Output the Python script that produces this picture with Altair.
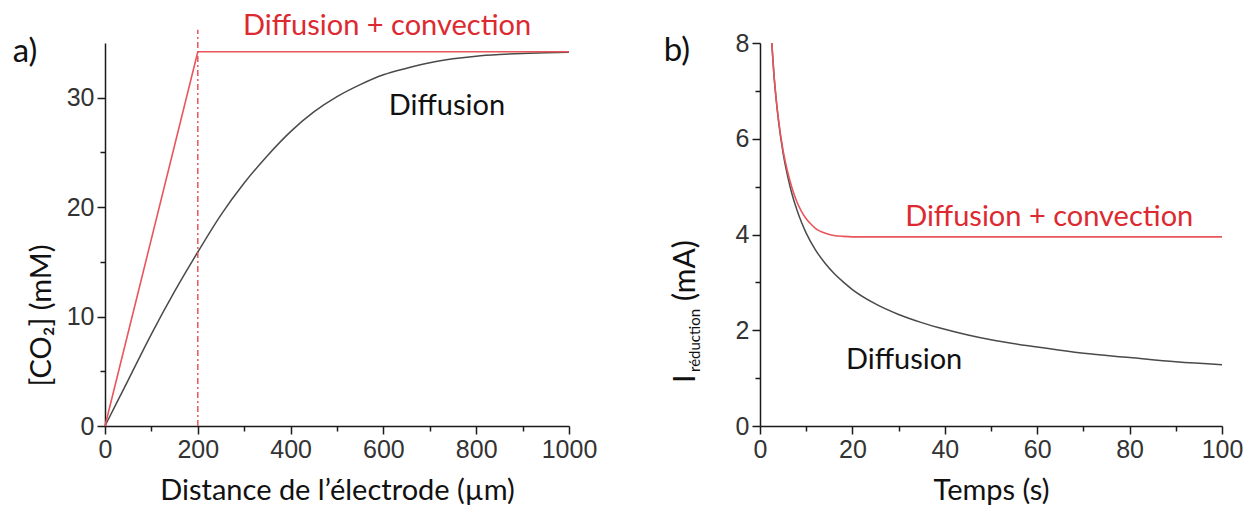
import altair as alt
import pandas as pd

# ---------- panel a) data ----------
dist_um = [0, 50, 100, 150, 200, 250, 300, 350, 400, 450, 500, 550, 600, 650, 700,
           750, 800, 850, 900, 950, 1000]
co2_diffusion = [0, 4.2, 8.4, 12.3, 15.9, 19.3, 22.2, 24.7, 26.9, 28.7, 30.1, 31.2,
                 32.1, 32.7, 33.2, 33.55, 33.8, 33.95, 34.05, 34.1, 34.15]
conv_dist_um = [0, 200, 1000]
co2_convection = [0, 34.2, 34.2]
boundary_um = [200]
boundary_top = [36.2]

# ---------- panel b) data ----------
t_diffusion = [2.55, 3, 3.5, 4, 5, 6, 7, 8, 9, 10, 12, 14, 16, 18, 20, 25, 30, 35, 40,
               45, 50, 60, 70, 80, 90, 100]
i_diffusion = [8.0, 7.36, 6.82, 6.38, 5.70, 5.21, 4.82, 4.51, 4.25, 4.03, 3.68, 3.41,
               3.19, 3.01, 2.85, 2.55, 2.33, 2.16, 2.02, 1.90, 1.80, 1.65, 1.52, 1.43,
               1.34, 1.28]
t_convection = [2.55, 3, 3.5, 4, 5, 6, 7, 8, 9, 10, 11, 12, 13, 14, 15, 16, 18, 20, 100]
i_convection = [8.0, 7.36, 6.83, 6.40, 5.75, 5.30, 4.95, 4.68, 4.48, 4.33, 4.22, 4.13,
                4.07, 4.03, 4.00, 3.98, 3.96, 3.95, 3.95]

x_ticks_a = list(range(0, 1001, 100))
y_ticks_a = [0, 5, 10, 15, 20, 25, 30]
x_ticks_b = list(range(0, 101, 10))
y_ticks_b = list(range(0, 9))

RED_LINE = "#e8555a"
RED_TEXT = "#dc2a30"
BLACK_LINE = "#4a4a4a"
ANN_FONT = "Lato"
TICK_FONT = "Liberation Sans"

W_A, H = 464, 383
W_B = 462


def axis(values, major_test, title, **kw):
    return alt.Axis(
        values=values,
        format="d",
        labelExpr=f"({major_test}) ? datum.label : ''",
        tickSize={"condition": {"test": major_test, "value": 8}, "value": 5},
        title=title,
        grid=False,
        **kw,
    )


# ---------------- panel a ----------------
df_a_diff = pd.DataFrame({"x": dist_um, "y": co2_diffusion})
df_a_conv = pd.DataFrame({"x": conv_dist_um, "y": co2_convection})
df_a_rule = pd.DataFrame({"x": boundary_um, "y": [0], "y2": boundary_top})

xa = alt.X("x:Q", scale=alt.Scale(domain=[0, 1000], nice=False),
           axis=axis(x_ticks_a, "datum.value % 200 === 0",
                     "Distance de l’électrode (µm)", titlePadding=14))
ya = alt.Y("y:Q", scale=alt.Scale(domain=[0, 35], nice=False),
           axis=axis(y_ticks_a, "datum.value % 10 === 0", "[CO₂] (mM)",
                     titlePadding=10, titleY=272))

a_diff = alt.Chart(df_a_diff).mark_line(color=BLACK_LINE, strokeWidth=1.5,
                                         interpolate="monotone").encode(x=xa, y=ya)
a_conv = alt.Chart(df_a_conv).mark_line(color=RED_LINE, strokeWidth=1.6).encode(
    x="x:Q", y="y:Q")
a_rule = alt.Chart(df_a_rule).mark_rule(color=RED_LINE, strokeWidth=1.5,
                                        strokeDash=[6, 3, 2, 3]).encode(
    x="x:Q", y="y:Q", y2="y2:Q")

ann_a = pd.DataFrame({"x": [608, 737], "y": [36.55, 29.2],
                      "t": ["Diffusion + convection", "Diffusion"],
                      "c": [RED_TEXT, "#111111"]})
a_text = alt.Chart(ann_a).mark_text(font=ANN_FONT, fontSize=29, baseline="middle").encode(
    x="x:Q", y="y:Q", text="t:N", color=alt.Color("c:N", scale=None))
a_label = alt.Chart(pd.DataFrame({"t": ["a)"]})).mark_text(
    font=ANN_FONT, fontSize=33, baseline="middle", color="#111111").encode(
    x=alt.value(-80), y=alt.value(9), text="t:N")

panel_a = alt.layer(a_diff, a_conv, a_rule, a_text, a_label).properties(width=W_A, height=H)

# ---------------- panel b ----------------
df_b_diff = pd.DataFrame({"x": t_diffusion, "y": i_diffusion})
df_b_conv = pd.DataFrame({"x": t_convection, "y": i_convection})

xb = alt.X("x:Q", scale=alt.Scale(domain=[0, 100], nice=False),
           axis=axis(x_ticks_b, "datum.value % 20 === 0", "Temps (s)", titlePadding=14))
yb = alt.Y("y:Q", scale=alt.Scale(domain=[0, 8], nice=False),
           axis=axis(y_ticks_b, "datum.value % 2 === 0", None))

b_diff = alt.Chart(df_b_diff).mark_line(color=BLACK_LINE, strokeWidth=1.5,
                                         interpolate="monotone").encode(x=xb, y=yb)
b_conv = alt.Chart(df_b_conv).mark_line(color=RED_LINE, strokeWidth=1.6,
                                         interpolate="monotone").encode(x="x:Q", y="y:Q")

ann_b = pd.DataFrame({"x": [62.6, 31.2], "y": [4.36, 1.38],
                      "t": ["Diffusion + convection", "Diffusion"],
                      "c": [RED_TEXT, "#111111"]})
b_text = alt.Chart(ann_b).mark_text(font=ANN_FONT, fontSize=29, baseline="middle").encode(
    x="x:Q", y="y:Q", text="t:N", color=alt.Color("c:N", scale=None))
b_label = alt.Chart(pd.DataFrame({"t": ["b)"]})).mark_text(
    font=ANN_FONT, fontSize=33, baseline="middle", color="#111111").encode(
    x=alt.value(-83), y=alt.value(8), text="t:N")

# y-axis title of panel b: I with subscript "réduction", then (mA)
yt_I = alt.Chart(pd.DataFrame({"t": ["I"]})).mark_text(
    font=ANN_FONT, fontSize=30, angle=270, align="left", baseline="alphabetic",
    color="#111111").encode(x=alt.value(-65), y=alt.value(340), text="t:N")
yt_sub = alt.Chart(pd.DataFrame({"t": ["réduction"]})).mark_text(
    font=ANN_FONT, fontSize=15, angle=270, align="left", baseline="alphabetic",
    color="#111111").encode(x=alt.value(-60), y=alt.value(329), text="t:N")
yt_mA = alt.Chart(pd.DataFrame({"t": ["(mA)"]})).mark_text(
    font=ANN_FONT, fontSize=30, angle=270, align="left", baseline="alphabetic",
    color="#111111").encode(x=alt.value(-65), y=alt.value(258), text="t:N")

panel_b = alt.layer(b_diff, b_conv, b_text, b_label, yt_I, yt_sub, yt_mA).properties(
    width=W_B, height=H)

chart = alt.hconcat(panel_a, panel_b, spacing=66).properties(
    padding={"left": 4, "top": 4, "right": 0, "bottom": 0}
).configure_view(stroke=None).configure_axis(
    domainColor="#1a1a1a", domainWidth=1.5, tickColor="#1a1a1a", tickWidth=1.5,
    labelFont=TICK_FONT, labelFontSize=25, labelColor="#333333", labelPadding=3,
    titleFont=ANN_FONT, titleFontSize=29, titleFontWeight="normal", titleColor="#111111",
    labelOverlap=False, labelFlush=False,
)

chart.save("out.html", embed_options={"renderer": "svg", "actions": False})
